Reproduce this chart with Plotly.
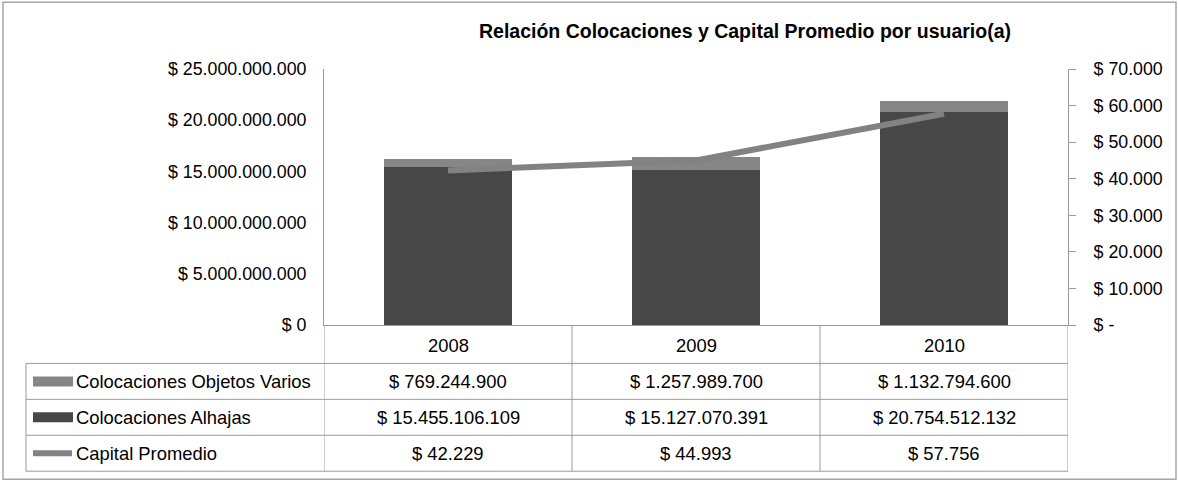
import plotly.graph_objects as go

# ---------------- data ----------------
anios = ["2008", "2009", "2010"]
objetos_varios = [769244900, 1257989700, 1132794600]
alhajas = [15455106109, 15127070391, 20754512132]
capital_promedio = [42229, 44993, 57756]
ticks_izq = [0, 5000000000, 10000000000, 15000000000, 20000000000, 25000000000]
ticks_der = [0, 10000, 20000, 30000, 40000, 50000, 60000, 70000]
series = ["Colocaciones Objetos Varios", "Colocaciones Alhajas", "Capital Promedio"]
titulo = "Relación Colocaciones y Capital Promedio por usuario(a)"


def fmt(v, cero="$ 0"):
    if v == 0:
        return cero
    return "$ " + f"{int(v):,}".replace(",", ".")


# ---------------- geometry helpers (pixels -> paper) ----------------
W, H = 1178, 482
L, R, T, B = 324, 1068, 69, 325.5


def px(x):
    return (x - L) / (R - L)


def py(y):
    return (B - y) / (B - T)


FONT = "Liberation Sans, Arial, sans-serif"
FS_AX = 17.8
FS_TB = 18.4
C_DARK = "#474747"
C_LIGHT = "#868686"
C_LINE = "#828282"
C_GRID = "#9a9a9a"

fig = go.Figure()
fig.add_bar(x=anios, y=alhajas, name=series[1], marker_color=C_DARK,
            marker_line_width=0, width=0.515)
fig.add_bar(x=anios, y=objetos_varios, name=series[0], marker_color=C_LIGHT,
            marker_line_width=0, width=0.515)
fig.add_scatter(x=anios, y=capital_promedio, name=series[2], yaxis="y2",
                mode="lines", line=dict(color=C_LINE, width=6))

shapes = []
annotations = []

# outer frame
shapes.append(dict(type="rect", xref="paper", yref="paper",
                   x0=px(3), x1=px(1176), y0=py(480), y1=py(2),
                   line=dict(color="#a6a6a6", width=1.5), layer="below"))

# ---------------- data table ----------------
row_y = [364, 400, 436, 472]
tline = dict(color=C_GRID, width=1)
for yy in row_y:
    shapes.append(dict(type="line", xref="paper", yref="paper",
                       x0=px(26), x1=1, y0=py(yy), y1=py(yy), line=tline))
shapes.append(dict(type="line", xref="paper", yref="paper",
                   x0=px(26), x1=px(26), y0=py(364), y1=py(472), line=tline))
for xb in [-0.5, 0.5, 1.5, 2.5]:
    shapes.append(dict(type="line", xref="x", yref="paper",
                       x0=xb, x1=xb, y0=0, y1=py(472), line=tline))

txt_font = dict(family=FONT, size=FS_TB, color="#000")
# header: years
for i, a in enumerate(anios):
    annotations.append(dict(xref="x", yref="paper", x=i, y=py(346),
                            xanchor="center", yanchor="middle",
                            text=a, showarrow=False, font=txt_font))

rows = [
    (series[0], objetos_varios),
    (series[1], alhajas),
    (series[2], capital_promedio),
]
key_colors = [C_LIGHT, C_DARK, C_LINE]
for r, (name, vals) in enumerate(rows):
    yc = (row_y[r] + row_y[r + 1]) / 2
    annotations.append(dict(xref="paper", yref="paper", x=px(74), y=py(yc),
                            xanchor="left", yanchor="middle", text=name,
                            showarrow=False, font=txt_font))
    for i, v in enumerate(vals):
        annotations.append(dict(xref="x", yref="paper", x=i, y=py(yc),
                                xanchor="center", yanchor="middle",
                                text=fmt(v), showarrow=False, font=txt_font))
    if r < 2:
        shapes.append(dict(type="rect", xref="paper", yref="paper",
                           x0=px(33), x1=px(73), y0=py(yc + 5), y1=py(yc - 5),
                           fillcolor=key_colors[r], line=dict(width=0)))
    else:
        shapes.append(dict(type="line", xref="paper", yref="paper",
                           x0=px(33), x1=px(72), y0=py(yc), y1=py(yc),
                           line=dict(color=key_colors[r], width=6)))

# title
annotations.append(dict(xref="paper", yref="paper", x=px(745), y=py(31),
                        xanchor="center", yanchor="middle",
                        text="<b>" + titulo + "</b>", showarrow=False,
                        font=dict(family=FONT, size=19.5, color="#000")))

fig.update_layout(
    width=W, height=H,
    margin=dict(l=L, r=W - R, t=T, b=H - B),
    paper_bgcolor="white", plot_bgcolor="white",
    barmode="stack", showlegend=False,
    font=dict(family=FONT, size=FS_AX, color="#000"),
    xaxis=dict(type="category", range=[-0.5, 2.5], showticklabels=False,
               showline=True, linecolor=C_GRID, linewidth=1, ticks="",
               showgrid=False, zeroline=False, fixedrange=True),
    yaxis=dict(range=[0, 25000000000], tickvals=ticks_izq,
               ticktext=[fmt(v) for v in ticks_izq], showgrid=False,
               zeroline=False, showline=True, linecolor=C_GRID, linewidth=1,
               ticks="", ticklabelstandoff=13,
               tickfont=dict(family=FONT, size=FS_AX, color="#000")),
    yaxis2=dict(range=[0, 70000], tickvals=ticks_der,
                ticktext=[fmt(v, "$ -") for v in ticks_der], overlaying="y",
                side="right", showgrid=False, zeroline=False, showline=True,
                linecolor=C_GRID, linewidth=1, ticks="outside", ticklen=7,
                tickcolor=C_GRID, ticklabelstandoff=14,
                tickfont=dict(family=FONT, size=FS_AX, color="#000")),
    shapes=shapes, annotations=annotations,
)

fig.write_html("out.html")
